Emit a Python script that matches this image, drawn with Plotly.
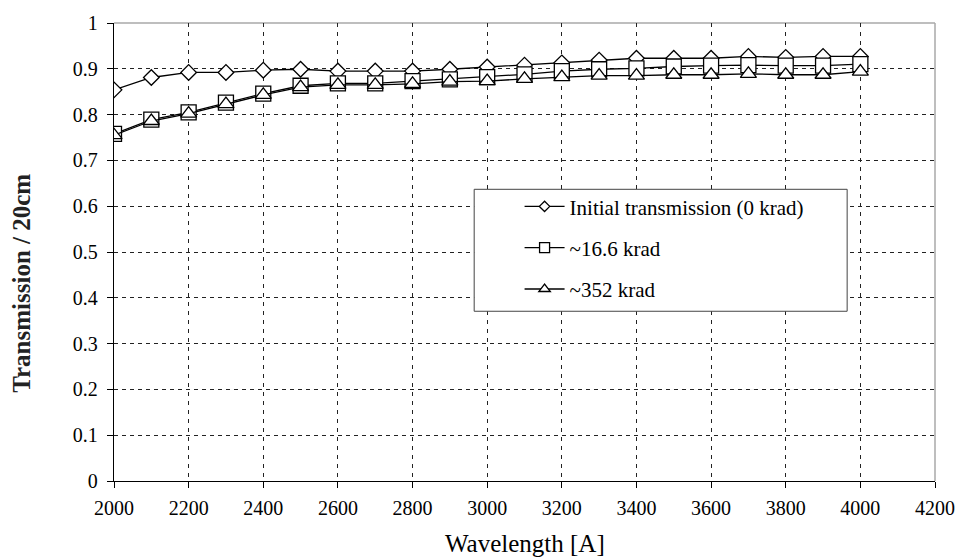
import plotly.graph_objects as go

wavelength = [2000, 2100, 2200, 2300, 2400, 2500, 2600, 2700, 2800, 2900, 3000,
              3100, 3200, 3300, 3400, 3500, 3600, 3700, 3800, 3900, 4000]
initial_0krad = [0.854, 0.881, 0.892, 0.892, 0.897, 0.899, 0.895, 0.895, 0.895, 0.899, 0.904,
                 0.908, 0.913, 0.919, 0.923, 0.923, 0.923, 0.927, 0.925, 0.927, 0.927]
dose_16_6krad = [0.758, 0.789, 0.805, 0.826, 0.846, 0.863, 0.868, 0.868, 0.873, 0.877, 0.882,
                 0.888, 0.895, 0.899, 0.901, 0.905, 0.907, 0.908, 0.907, 0.907, 0.910]
dose_352krad = [0.755, 0.786, 0.802, 0.823, 0.843, 0.860, 0.865, 0.865, 0.867, 0.872, 0.873,
                0.878, 0.882, 0.885, 0.885, 0.887, 0.887, 0.889, 0.887, 0.887, 0.894]
series_names = ["Initial transmission (0 krad)", "~16.6 krad", "~352 krad"]
x_ticks = list(range(2000, 4201, 200))
y_ticks = [round(i * 0.1, 1) for i in range(11)]

FONT = "Liberation Serif"

fig = go.Figure()
specs = [(initial_0krad, "diamond", 12, 8), (dose_16_6krad, "square", 15, 10), (dose_352krad, "triangle-up", 14, 10)]
for i, (vals, sym, sz, lsz) in enumerate(specs):
    fig.add_trace(go.Scatter(
        x=wavelength, y=vals, name=series_names[i], mode="lines+markers",
        showlegend=False,
        line=dict(color="black", width=1.3),
        marker=dict(symbol=sym, size=sz, color="white", line=dict(color="black", width=1.3)),
    ))
    # legend-only entry with smaller marker
    fig.add_trace(go.Scatter(
        x=[None], y=[None], name=series_names[i], mode="lines+markers",
        legendgroup=f"g{i}",
        line=dict(color="black", width=1.3),
        marker=dict(symbol=sym, size=lsz, color="white", line=dict(color="black", width=1.3)),
    ))

fig.add_shape(type="line", xref="paper", yref="paper", x0=0, x1=1, y0=1, y1=1,
              line=dict(color="#a8a8a8", width=1.5), layer="below")
fig.add_shape(type="line", xref="paper", yref="paper", x0=1, x1=1, y0=0, y1=1,
              line=dict(color="#a8a8a8", width=1.5), layer="below")
fig.add_shape(type="rect", xref="paper", yref="paper",
              x0=0.4387, x1=0.8930, y0=0.3706, y1=0.6369,
              line=dict(color="#444", width=1), fillcolor="white", layer="above")

fig.add_annotation(text="<b>Transmission / 20cm</b>", textangle=-90, xref="paper", yref="paper",
                   x=-0.113, y=0.431, xanchor="center", yanchor="middle", showarrow=False,
                   font=dict(family=FONT, size=25, color="#222"))
fig.add_annotation(text="Wavelength [A]", xref="paper", yref="paper",
                   x=0.5, y=-0.136, xanchor="center", yanchor="middle", showarrow=False,
                   font=dict(family=FONT, size=25, color="black"))

fig.update_layout(
    width=967, height=560,
    margin=dict(l=114, r=25.5, t=16, b=78.5),
    paper_bgcolor="white", plot_bgcolor="white",
    font=dict(family=FONT, size=20, color="black"),
    showlegend=True,
    legend=dict(x=0.494, y=0.6436, xanchor="left", yanchor="top",
                bgcolor="rgba(0,0,0,0)", borderwidth=0, tracegroupgap=11,
                font=dict(family=FONT, size=21, color="black"), itemwidth=40),
    xaxis=dict(range=[2000, 4200], tickvals=x_ticks, showgrid=True, gridcolor="#222",
               griddash="4px,5px", gridwidth=1, showline=True, linecolor="black", linewidth=1.3,
               ticks="outside", ticklen=6, tickcolor="black", zeroline=False,
               ticklabelstandoff=3, tickfont=dict(family=FONT, size=20, color="black")),
    yaxis=dict(range=[0, 1], tickvals=y_ticks, showgrid=True, gridcolor="#222",
               griddash="4px,4px", gridwidth=1, showline=True, linecolor="black", linewidth=1.3,
               ticks="outside", ticklen=6, tickcolor="black", zeroline=False,
               ticklabelstandoff=5, tickfont=dict(family=FONT, size=20, color="black")),
)

fig.write_html("out.html")
